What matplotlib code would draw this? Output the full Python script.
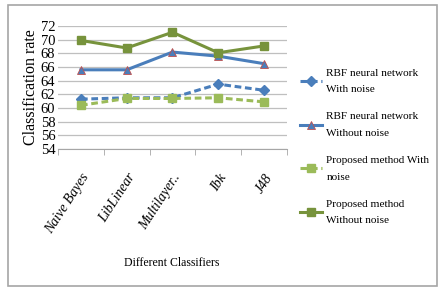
import numpy as np
import matplotlib
matplotlib.use("Agg")
import matplotlib.pyplot as plt
from matplotlib.patches import Rectangle

classifiers = ["Naive Bayes", "LibLinear", "Multilayer..", "Ibk", "J48"]
rbf_noise = [61.3, 61.5, 61.5, 63.5, 62.6]
rbf_clean = [65.6, 65.6, 68.2, 67.6, 66.5]
prop_noise = [60.4, 61.4, 61.4, 61.5, 60.9]
prop_clean = [69.9, 68.8, 71.1, 68.1, 69.1]
yticks = list(range(54, 73, 2))

serif = "Liberation Serif"

fig = plt.figure(figsize=(4.4, 3.04), dpi=100)
fig.patches.append(Rectangle((8 / 440, 1 - 286 / 304), 429 / 440, 281 / 304,
                             transform=fig.transFigure, fill=False,
                             edgecolor="#a6a6a6", linewidth=1.2))
ax = fig.add_axes([0.132, 0.51, 0.52, 0.404])

x = np.arange(len(classifiers))
ax.plot(x, rbf_noise, color="#4A7EBB", lw=2.2, ls=(0, (2.2, 1.2)), marker="D", ms=5,
        label="RBF neural network\nWith noise")
ax.plot(x, rbf_clean, color="#4A7EBB", lw=2.2, marker="^", ms=6, mec="#c0504d", mew=0.6,
        mfc="#4A7EBB", label="RBF neural network\nWithout noise")
ax.plot(x, prop_noise, color="#9BBB59", lw=2.2, ls=(0, (2.2, 1.2)), marker="s", ms=6,
        label="Proposed method With\nnoise")
ax.plot(x, prop_clean, color="#77933C", lw=2.2, marker="s", ms=6,
        label="Proposed method\nWithout noise")

ax.set_xlim(-0.5, len(classifiers) - 0.5)
ax.set_ylim(54, 72)
ax.set_yticks(yticks)
ax.set_yticklabels([str(v) for v in yticks], fontfamily=serif, fontsize=10.5)
ax.yaxis.grid(True, color="#bfbfbf", lw=0.9)
ax.set_axisbelow(True)
ax.tick_params(axis="y", length=0, pad=2)

ax.set_xticks(x)
ax.set_xticklabels(classifiers, rotation=57, ha="right", rotation_mode="anchor",
                   fontfamily=serif, fontstyle="italic", fontsize=10)
ax.set_xticks(np.arange(-0.5, len(classifiers)), minor=True)
ax.tick_params(axis="x", which="major", length=0, pad=16)
ax.tick_params(axis="x", which="minor", length=4, color="#a6a6a6")

for s in ["top", "right", "left"]:
    ax.spines[s].set_visible(False)
ax.spines["bottom"].set_color("#a6a6a6")

ax.set_ylabel("Classification rate", fontfamily=serif, fontsize=11.5, labelpad=1)
fig.text(172 / 440, 1 - 263 / 304, "Different Classifiers", fontfamily=serif,
         fontsize=8.5, ha="center", va="center")

leg = fig.legend(loc="upper left", bbox_to_anchor=(0.665, 0.80), frameon=False,
                 prop={"family": serif, "size": 8.1}, handlelength=1.9,
                 labelspacing=1.6, borderpad=0.2, handletextpad=0.4)
for t in leg.get_texts():
    t.set_linespacing(2.1)

fig.savefig("out.png", dpi=100)
